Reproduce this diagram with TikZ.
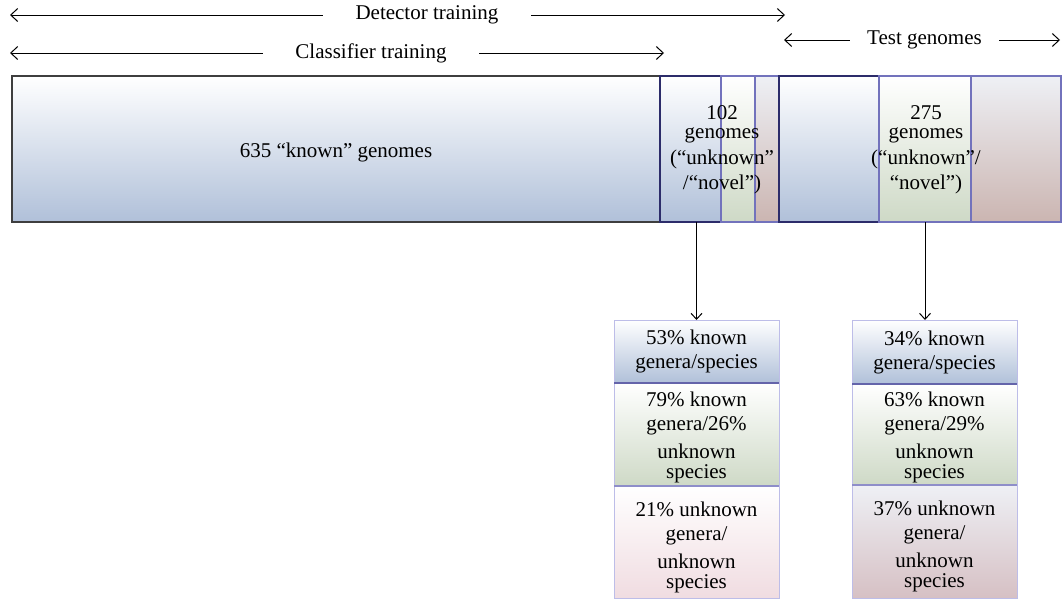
\documentclass[tikz,border=0pt]{standalone}
\usepackage{fontspec}
\setmainfont{Liberation Serif}
\usepackage{tikz}
\usetikzlibrary{arrows.meta,positioning,calc}
\definecolor{gnblue}{HTML}{B0C0D9}
\definecolor{gngreen}{HTML}{CED9C6}
\definecolor{gnred}{HTML}{CBB5B1}
\definecolor{gnmist}{HTML}{EEF0F5}
\definecolor{gnpink}{HTML}{F0DCE1}
\definecolor{gnrose}{HTML}{D6C0C4}
\definecolor{gnnavy}{HTML}{2C2C6A}
\definecolor{gnslate}{HTML}{7272BC}
\definecolor{gnlav}{HTML}{BDBDE8}
\definecolor{gnsep}{HTML}{6464AA}
\definecolor{gngray}{HTML}{3E3E3E}
\tikzset{
    barbox/.style={rectangle, draw=#1, line width=1.3pt, anchor=north west,
        inner sep=0pt, outer sep=0pt, minimum height=146pt},
    fillgrad/.style={top color=white, bottom color=#1},
    stackbox/.style={rectangle, draw=gnlav, line width=1pt, anchor=north west,
        inner sep=0pt, outer sep=0pt, minimum width=165pt, align=center},
    spanarrow/.style={{Straight Barb[length=7pt,width=13pt]}-{Straight Barb[length=7pt,width=13pt]},
        line width=1pt},
    droparrow/.style={-{Straight Barb[length=6pt,width=11pt]}, line width=1pt},
    spanlabel/.style={fill=white, inner ysep=2pt, inner xsep=#1},
    sepline/.style={draw=#1, line width=1.5pt},
}
% taller first line, pushes a centred block down
\newcommand{\dropline}[1]{\rule{0pt}{#1}}

\begin{document}
\begin{tikzpicture}[x=1pt, y=-1pt, font=\fontsize{21}{24}\selectfont]

    \useasboundingbox (0,0) rectangle (1062,600);

    % ── Span arrows ────────────────────────────────────────────────────────
    \coordinate (dtL) at (10,15);
    \coordinate (dtR) at (785,15);
    \draw[spanarrow] (dtL) -- (dtR)
        node[spanlabel=33pt, pos=0.538] (dtlabel) {Detector training};

    \coordinate (ctL) at (10,53);
    \coordinate (ctR) at (664,53);
    \draw[spanarrow] (ctL) -- (ctR)
        node[spanlabel=32pt, pos=0.552] (ctlabel) {Classifier training};

    \coordinate (tgL) at (784,40);
    \coordinate (tgR) at (1060,40);
    \draw[spanarrow] (tgL) -- (tgR)
        node[spanlabel=17pt, pos=0.509] (tglabel) {Test genomes};

    % ── Main bar ───────────────────────────────────────────────────────────
    \node[barbox=gngray, fillgrad=gnblue, minimum width=648pt] (known) at (12,76)
        {\dropline{21pt}635 “known” genomes};

    % detector-training unknowns
    \node[barbox=gnnavy, fillgrad=gnblue, minimum width=61pt, right=0pt of known] (dtU) {};
    \node[barbox=gnslate, fillgrad=gngreen, minimum width=34pt, right=0pt of dtU] (dtG) {};
    \node[barbox=gnslate, top color=gnmist, bottom color=gnred, minimum width=24pt,
        right=0pt of dtG] (dtR) {};

    % test genomes
    \node[barbox=gnnavy, fillgrad=gnblue, minimum width=100pt, right=0pt of dtR] (tsB) {};
    \node[barbox=gnslate, fillgrad=gngreen, minimum width=92pt, right=0pt of tsB] (tsG) {};
    \node[barbox=gnslate, top color=gnmist, bottom color=gnred, minimum width=90pt,
        right=0pt of tsG] (tsR) {};

    \node[align=center] (lbl102) at (722,150)
        {102\\[-5pt] genomes\\[2pt] (“unknown”\\[1pt] /“novel”)};
    \node[align=center] (lbl275) at (926,150)
        {275\\[-5pt] genomes\\[2pt] (“unknown”/\\[1pt] “novel”)};

    % ── Left stack ─────────────────────────────────────────────────────────
    \node[stackbox, fillgrad=gnblue, minimum height=63pt] (l1) at (614,320)
        {53\% known\\ genera/species};
    \node[stackbox, fillgrad=gngreen, minimum height=103pt, below=0pt of l1] (l2)
        {\dropline{20pt}79\% known\\ genera/26\%\\[4pt] unknown\\[-4pt] species};
    \node[stackbox, fillgrad=gnpink, minimum height=112pt, below=0pt of l2] (l3)
        {\dropline{25pt}21\% unknown\\ genera/\\[4pt] unknown\\[-4pt] species};
    \draw[sepline=gnsep] (l1.south west) -- (l1.south east);
    \draw[sepline=gnslate!80] (l2.south west) -- (l2.south east);

    % ── Right stack ────────────────────────────────────────────────────────
    \node[stackbox, fillgrad=gnblue, minimum height=64pt] (r1) at (852,320)
        {34\% known\\ genera/species};
    \node[stackbox, fillgrad=gngreen, minimum height=101pt, below=0pt of r1] (r2)
        {\dropline{20pt}63\% known\\ genera/29\%\\[4pt] unknown\\[-4pt] species};
    \node[stackbox, top color=gnmist, bottom color=gnrose, minimum height=113pt,
        below=0pt of r2] (r3)
        {\dropline{25pt}37\% unknown\\ genera/\\[4pt] unknown\\[-4pt] species};
    \draw[sepline=gnsep] (r1.south west) -- (r1.south east);
    \draw[sepline=gnslate!80] (r2.south west) -- (r2.south east);

    % ── Drop arrows ────────────────────────────────────────────────────────
    \draw[droparrow] (l1.north |- dtU.south) -- (l1.north);
    \draw[droparrow] (tsG.south) -- (tsG.south |- r1.north);

\end{tikzpicture}
\end{document}
